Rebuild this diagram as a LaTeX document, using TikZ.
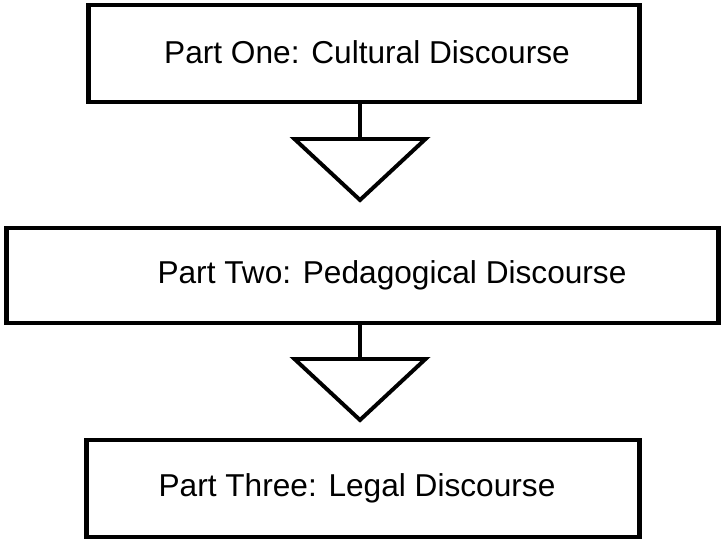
\documentclass[tikz,border=0pt]{standalone}
\usepackage{fontspec}
\setmainfont{Liberation Sans}
\begin{document}
\begin{tikzpicture}[x=0.025cm, y=-0.025cm]
      \tikzset{
	  partbox/.style={rectangle, draw=black, line width=3.5pt, inner sep=0pt},
	  parttext/.style={inner sep=0pt, font=\fontsize{22.5}{27}\selectfont},
	  funnel/.style={draw=black, line width=2.8pt, line join=miter},
	  stem/.style={draw=black, line width=2.8pt}
      }

      \def\funnelpath{++(-65.5,0) -- ++(131,0) -- ++(-65.5,61) -- cycle}

      \useasboundingbox (0,0) rectangle (721,539);

      \node (one) at (364,53.5) [partbox, minimum width=13.75cm, minimum height=2.425cm] {};
      \node (two) at (362.5,275.5) [partbox, minimum width=17.775cm, minimum height=2.375cm] {};
      \node (three) at (363,488.5) [partbox, minimum width=13.8cm, minimum height=2.425cm] {};

      \node (onetext) at (367,52) [parttext] {Part One: Cultural Discourse};
      \node (twotext) at (392,275) [parttext] {Part Two: Pedagogical Discourse};
      \node (threetext) at (357,488) [parttext] {Part Three: Legal Discourse};

      \coordinate (funnelone) at (360,139);
      \coordinate (funneltwo) at (360,359);

      \draw [stem] (one.south -| funnelone) -- (funnelone);
      \draw [funnel] (funnelone) \funnelpath;
      \draw [stem] (two.south -| funneltwo) -- (funneltwo);
      \draw [funnel] (funneltwo) \funnelpath;
    \end{tikzpicture}
\end{document}
